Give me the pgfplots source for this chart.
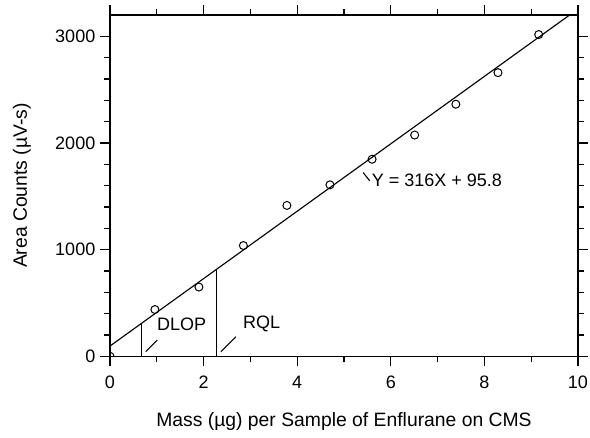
\documentclass[border=0pt]{standalone}
\usepackage{fontspec}
\setmainfont{Liberation Sans}
\usepackage{pgfplots}
\pgfplotsset{compat=1.18}
\begin{document}
\begin{tikzpicture}
\begin{axis}[
  at={(0,0)}, anchor=south west,
  scale only axis, width=351pt, height=256pt,
  xmin=0, xmax=10, ymin=0, ymax=3200,
  xtick={0,2,4,6,8,10}, ytick={0,1000,2000,3000},
  minor x tick num=1, minor y tick num=4,
  tick align=outside,
  major tick length=7.5pt, minor tick length=4.5pt,
  tick style={black, line width=0.9pt},
  axis line style={line width=1pt},
  ticklabel style={font=\fontsize{13.5}{15}\selectfont},
  x tick label style={yshift=-4pt},
  /pgf/number format/assume math mode=true,
  scaled ticks=false,
  /pgf/number format/1000 sep={},
  xlabel={Mass (µg) per Sample of Enflurane on CMS},
  ylabel={Area Counts (µV-s)},
  label style={font=\fontsize{14.5}{17}\selectfont},
  x label style={at={(axis description cs:0.5,-0.207)}, anchor=base},
  y label style={at={(axis description cs:-0.1774,0.5)}, anchor=base},
  clip marker paths=true,
]
\addplot[only marks, mark=o, mark size=3pt, mark options={line width=0.75pt, black}] coordinates {
(0,0) (0.96,438) (1.90,649) (2.85,1038) (3.78,1414) (4.70,1607)
(5.60,1847) (6.51,2074) (7.39,2363) (8.29,2659) (9.16,3016)};
\addplot[black, line width=0.85pt] coordinates {(0,95.8) (10,3255.8)};
\addplot[black, line width=0.85pt] coordinates {(0.68,0) (0.68,310.7)};
\addplot[black, line width=0.85pt] coordinates {(2.27,0) (2.27,813)};
\addplot[black, line width=0.85pt] coordinates {(0.763,43) (1.01,152)};
\addplot[black, line width=0.85pt] coordinates {(2.37,43) (2.69,183)};
\addplot[black, line width=0.85pt] coordinates {(5.41,1722) (5.55,1645)};
\node[anchor=west, inner sep=0pt, font=\fontsize{13.5}{16}\selectfont] at (axis cs:1.00,301) {DLOP};
\node[anchor=west, inner sep=0pt, font=\fontsize{13.5}{16}\selectfont] at (axis cs:2.84,301) {RQL};
\node[anchor=west, inner sep=0pt, font=\fontsize{13.5}{16}\selectfont] at (axis cs:5.59,1654) {Y = 316X + 95.8};
\end{axis}
\pgfresetboundingbox
\path[use as bounding box] (-82.5pt,-61.3pt) rectangle (360pt,267.2pt);
\end{tikzpicture}
\end{document}
